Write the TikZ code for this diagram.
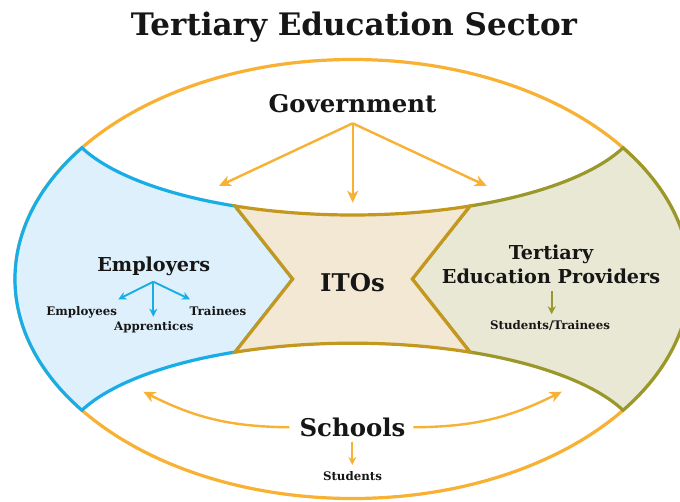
\documentclass[tikz,border=0pt]{standalone}
\usepackage{fontspec}
\setmainfont{DejaVu Serif}
\usetikzlibrary{arrows.meta}

\definecolor{amber}{RGB}{248,177,51}
\definecolor{skyline}{RGB}{24,174,229}
\definecolor{skyfill}{RGB}{221,240,252}
\definecolor{goldline}{RGB}{196,152,30}
\definecolor{goldfill}{RGB}{243,232,212}
\definecolor{oliveline}{RGB}{154,152,42}
\definecolor{olivefill}{RGB}{232,232,212}
\definecolor{inkdark}{RGB}{22,22,22}

\begin{document}
\begin{tikzpicture}[x=1pt,y=1pt,
  region/.style={line width=3.2pt, line join=miter},
  lbl/.style={inner sep=0pt, anchor=base, text=inkdark},
  bigtitle/.style={lbl, font=\fontsize{31}{35}\selectfont\bfseries},
  headlbl/.style={lbl, font=\fontsize{24.4}{28}\selectfont\bfseries},
  midlbl/.style={lbl, font=\fontsize{19.2}{23.3}\selectfont\bfseries},
  smalllbl/.style={lbl, font=\fontsize{11.8}{13}\selectfont\bfseries},
  bigarrow/.style={line width=2.4pt, -{Stealth[length=12pt,width=11pt,inset=3.5pt]}},
  smallarrow/.style={line width=1.9pt, -{Stealth[length=8pt,width=8pt,inset=2.5pt]}}
]
\useasboundingbox (0,0) rectangle (680,501);
\clip (0,0) rectangle (680,501);
\fill[white] (0,0) rectangle (680,501);

% corner points of the central ITO shape
\coordinate (ITL) at (235.01,295.0);
\coordinate (ITR) at (469.99,295.0);
\coordinate (IBL) at (235.01,148.8);
\coordinate (IBR) at (469.99,148.8);
\coordinate (NL) at (292.7,222);
\coordinate (NR) at (412.3,222);

% outer sector ellipse
\draw[amber, line width=3.2pt] (352.5,222) ellipse [x radius=337.5pt, y radius=219.5pt];

% employers region (left)
\filldraw[region, draw=skyline, fill=skyfill]
  (ITL) arc[start angle=246.1, end angle=201.1, x radius=290pt, y radius=105pt]
        arc[start angle=143.28, end angle=216.72, x radius=337.5pt, y radius=219.5pt]
        arc[start angle=158.9, end angle=113.9, x radius=290pt, y radius=105pt]
  -- (NL) -- cycle;

% tertiary education providers region (right)
\filldraw[region, draw=oliveline, fill=olivefill]
  (ITR) arc[start angle=293.9, end angle=338.9, x radius=290pt, y radius=105pt]
        arc[start angle=36.72, end angle=-36.72, x radius=337.5pt, y radius=219.5pt]
        arc[start angle=21.1, end angle=66.1, x radius=290pt, y radius=105pt]
  -- (NR) -- cycle;

% ITO region (centre)
\filldraw[region, draw=goldline, fill=goldfill]
  (ITL) arc[start angle=246.1, end angle=293.9, x radius=290pt, y radius=105pt]
  -- (NR) -- (IBR)
  arc[start angle=66.1, end angle=113.9, x radius=290pt, y radius=105pt]
  -- (NL) -- cycle;

% labels
\node[bigtitle] (title) at (354,465) {Tertiary Education Sector};
\node[headlbl] (gov) at (352.5,388) {Government};
\node[midlbl] (emp) at (153.7,229.3) {Employers};
\node[smalllbl] (employees) at (81.7,185.5) {Employees};
\node[smalllbl] (trainees) at (218,185.5) {Trainees};
\node[smalllbl] (apprentices) at (153.8,170.5) {Apprentices};
\node[headlbl] (itos) at (352.5,209.3) {ITOs};
\node[midlbl, align=center] (tep) at (551,217.7) {Tertiary\\Education Providers};
\node[smalllbl] (studtr) at (550,171) {Students/Trainees};
\node[headlbl] (schools) at (352.5,64.3) {Schools};
\node[smalllbl] (students) at (352.5,20.3) {Students};

% government arrows
\coordinate (govsrc) at (352.7,377.7);
\coordinate (govL) at (219,315);
\coordinate (govM) at (352.7,298.3);
\coordinate (govR) at (486.7,315);
\draw[bigarrow, amber] (govsrc) -- (govL);
\draw[bigarrow, amber] (govsrc) -- (govM);
\draw[bigarrow, amber] (govsrc) -- (govR);

% employer arrows
\coordinate (empsrc) at (153.3,219.3);
\coordinate (empL) at (118.3,201.7);
\coordinate (empM) at (153.3,184.3);
\coordinate (empR) at (190,201.7);
\draw[smallarrow, skyline] (empsrc) -- (empL);
\draw[smallarrow, skyline] (empsrc) -- (empM);
\draw[smallarrow, skyline] (empsrc) -- (empR);

% provider arrow
\coordinate (tepsrc) at (551.7,210);
\coordinate (tepend) at (551.7,186.7);
\draw[smallarrow, oliveline] (tepsrc) -- (tepend);

% school arrows
\coordinate (schsrc) at (352.3,59.3);
\coordinate (schend) at (352.3,36);
\draw[smallarrow, amber] (schsrc) -- (schend);
\coordinate (schLs) at (289.3,73.7);
\coordinate (schLe) at (143.3,109.3);
\coordinate (schRs) at (413.3,73.7);
\coordinate (schRe) at (561.7,109.3);
\draw[bigarrow, amber] (schLs) to[bend left=13] (schLe);
\draw[bigarrow, amber] (schRs) to[bend right=13] (schRe);
\end{tikzpicture}
\end{document}
